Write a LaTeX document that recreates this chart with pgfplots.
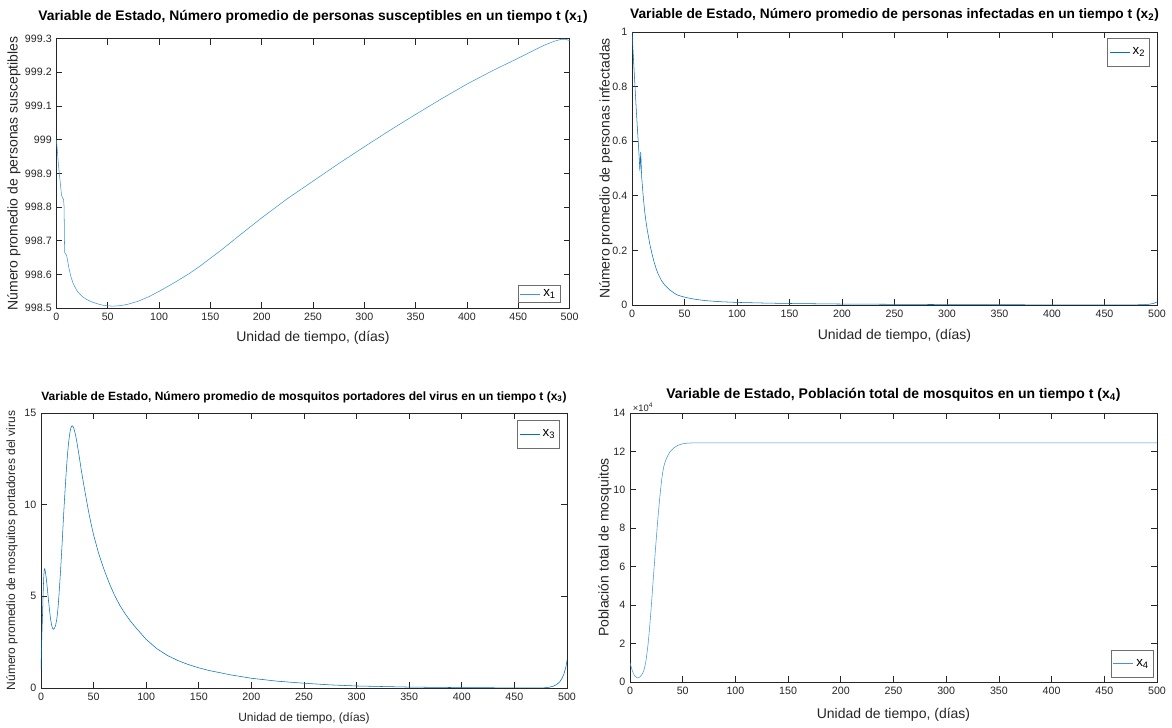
\documentclass[border=0pt]{standalone}
\usepackage{fontspec}
\setmainfont{Liberation Sans}
\usepackage{pgfplots}
\pgfplotsset{compat=1.18}

\definecolor{mblue}{RGB}{0,114,189}
\definecolor{lblue}{RGB}{60,150,215}
\definecolor{axgray}{RGB}{38,38,38}
\definecolor{leggray}{RGB}{110,110,110}

\newcommand{\sub}[1]{\textsubscript{#1}}

\pgfplotsset{
  statepanel/.style={
    scale only axis,
    clip mode=individual,
    xmin=0, xmax=500,
    xtick={0,50,...,500},
    tick align=inside,
    axis line style={axgray, line width=0.55pt},
    every tick/.style={axgray, line width=0.55pt},
    major tick length=4.5pt,
    tick label style={font=\fontsize{8}{10}\selectfont, text=axgray},
    /pgf/number format/assume math mode=true,
    title style={font=\bfseries\fontsize{10.4}{12}\selectfont, anchor=center, yshift=-6pt},
    label style={font=\fontsize{10.5}{12}\selectfont, text=axgray},
    legend style={draw=leggray, fill=white, line width=0.55pt,
      font=\fontsize{10}{12}\selectfont, inner xsep=1.5pt, inner ysep=1pt},
    legend cell align=left,
    legend image code/.code={\draw[#1] (0pt,0pt) -- (15pt,0pt);},
    no markers,
    cycle list={{mblue, line width=0.6pt}},
  }
}

\begin{document}
\begin{tikzpicture}
\path[use as bounding box] (0,0) rectangle (879pt,546pt);

% susceptible humans
\begin{axis}[statepanel,
  at={(42.3pt,314.85pt)}, anchor=south west,
  width=384.9pt, height=202.2pt,
  cycle list={{lblue, line width=0.55pt}},
  ymin=998.5, ymax=999.3,
  ytick={998.5,998.6,998.7,998.8,998.9,999,999.1,999.2,999.3},
  scaled y ticks=false,
  yticklabel style={/pgf/number format/fixed, /pgf/number format/precision=1},
  title={Variable de Estado, Número promedio de personas susceptibles en un tiempo t (x\sub{1})},
  title style={at={(axis description cs:0.5,1.080)}},
  xlabel={Unidad de tiempo, (días)},
  xlabel style={at={(axis description cs:0.5,-0.1105)}, anchor=center},
  ylabel={Número promedio de personas susceptibles},
  ylabel style={at={(axis description cs:-0.0826,0.5)}, anchor=center},
  legend style={at={(axis description cs:0.983,0.019)}, anchor=south east},
]
\addplot coordinates {
(0,999.00) (1,998.965) (2,998.925) (3,998.895) (4,998.865) (5,998.835)
(6,998.828) (7,998.822) (7.5,998.80) (8,998.665) (9,998.662) (10,998.655)
(11,998.64) (12,998.622) (13,998.608) (14,998.595) (16,998.576) (18,998.563)
(20,998.552) (23,998.541) (26,998.533) (30,998.525) (35,998.518) (40,998.513)
(45,998.509) (50,998.507) (55,998.506) (60,998.507) (65,998.509) (70,998.512)
(80,998.521) (90,998.534) (100,998.550) (110,998.567) (120,998.585) (130,998.604)
(140,998.625) (150,998.648) (160,998.671) (180,998.72) (200,998.768) (225,998.825)
(250,998.877) (275,998.929) (300,998.979) (325,999.028) (350,999.075) (375,999.121)
(400,999.165) (425,999.205) (450,999.242) (465,999.265) (475,999.280) (485,999.292)
(492,999.298) (496,999.298) (500,999.294)
};
\addlegendentry{x\sub{1}}
\end{axis}

% infected humans
\begin{axis}[statepanel,
  at={(474pt,317.25pt)}, anchor=south west,
  width=393.75pt, height=204.75pt,
  ymin=0, ymax=1,
  ytick={0,0.2,0.4,0.6,0.8,1},
  title={Variable de Estado, Número promedio de personas infectadas en un tiempo t (x\sub{2})},
  title style={at={(axis description cs:0.5,1.062)}, font=\bfseries\fontsize{10.3}{12}\selectfont},
  xlabel={Unidad de tiempo, (días)},
  xlabel style={at={(axis description cs:0.5,-0.1136)}, anchor=center},
  ylabel={Número promedio de personas infectadas},
  ylabel style={at={(axis description cs:-0.0495,0.5)}, anchor=center},
  legend style={at={(axis description cs:0.987,0.978)}, anchor=north east, inner ysep=5pt},
]
\addplot coordinates {
(0,1.0) (1,0.93) (2,0.86) (3,0.79) (4,0.72) (5,0.655) (6,0.595) (7,0.53)
(7.5,0.49) (8.3,0.56) (9.2,0.47) (10,0.43) (11,0.385) (12,0.345) (13,0.315)
(14,0.288) (15,0.265) (17,0.222) (19,0.188) (21,0.158) (23,0.133) (25,0.113)
(28,0.09) (31,0.074) (33,0.066) (36,0.055) (40,0.044) (43,0.037) (47,0.032)
(52,0.027) (60,0.021) (70,0.016) (84,0.012) (100,0.0095) (125,0.0072)
(150,0.0055) (200,0.0035) (250,0.0025) (300,0.0015) (400,0.0006) (470,0.0004)
(480,0.0006) (488,0.0015) (493,0.003) (497,0.006) (500,0.011)
};
\addlegendentry{x\sub{2}}
\end{axis}

% infectious mosquitoes
\begin{axis}[statepanel,
  at={(30.75pt,30pt)}, anchor=south west,
  width=394.5pt, height=206.25pt,
  ymin=0, ymax=15,
  ytick={0,5,10,15},
  title={Variable de Estado, Número promedio de mosquitos portadores del virus en un tiempo t (x\sub{3})},
  title style={at={(axis description cs:0.5,1.058)}, font=\bfseries\fontsize{9}{11}\selectfont},
  xlabel={Unidad de tiempo, (días)},
  xlabel style={at={(axis description cs:0.5,-0.109)}, anchor=center, font=\fontsize{9}{11}\selectfont},
  ylabel={Número promedio de mosquitos portadores del virus},
  ylabel style={at={(axis description cs:-0.0551,0.5)}, anchor=center, font=\fontsize{9}{11}\selectfont},
  legend style={at={(axis description cs:0.987,0.975)}, anchor=north east, inner ysep=5pt},
]
\addplot coordinates {
(0,1.0) (0.5,2.2) (1,3.2) (1.5,4.1) (2,5.1) (2.5,5.9) (3,6.4) (3.5,6.5)
(4,6.4) (5,6.0) (6,5.45) (7,4.85) (8,4.3) (9,3.8) (10,3.45) (11,3.25) (12,3.2)
(13,3.28) (14,3.45) (15,3.75) (16,4.25) (17,5.0) (18,5.85) (19,6.8) (20,7.8)
(21,8.9) (22,9.95) (23,10.9) (24,11.8) (25,12.6) (26,13.25) (27,13.75) (28,14.1)
(29,14.28) (30,14.3) (31,14.2) (32,14.0) (33,13.75) (34,13.45) (36,12.75)
(38,12.0) (40,11.3) (42,10.65) (44,10.0) (46,9.4) (48,8.85) (50,8.35) (55,7.3)
(60,6.45) (65,5.7) (70,5.05) (75,4.5) (80,4.05) (85,3.65) (90,3.3) (100,2.65)
(110,2.15) (120,1.78) (130,1.5) (140,1.28) (150,1.1) (160,0.95) (180,0.72)
(200,0.53) (225,0.37) (250,0.26) (275,0.17) (300,0.11) (350,0.05) (400,0.02)
(450,0.008) (470,0.005) (478,0.01) (483,0.04) (487,0.1) (490,0.18) (493,0.33)
(495,0.5) (497,0.75) (499,1.15) (500,1.5)
};
\addlegendentry{x\sub{3}}
\end{axis}

% total mosquito population (tick labels in units of 10^4)
\begin{axis}[statepanel,
  at={(472.5pt,34.5pt)}, anchor=south west,
  width=395.25pt, height=201.75pt,
  cycle list={{lblue, line width=0.55pt}},
  ymin=0, ymax=140000,
  ytick={0,20000,40000,60000,80000,100000,120000,140000},
  yticklabels={0,2,4,6,8,10,12,14},
  scaled y ticks=false,
  title={Variable de Estado, Población total de mosquitos en un tiempo t (x\sub{4})},
  title style={at={(axis description cs:0.5,1.067)}, font=\bfseries\fontsize{10.5}{12}\selectfont},
  xlabel={Unidad de tiempo, (días)},
  xlabel style={at={(axis description cs:0.5,-0.1227)}, anchor=center},
  ylabel={Población total de mosquitos},
  ylabel style={at={(axis description cs:-0.0474,0.5)}, anchor=center},
  legend style={at={(axis description cs:0.994,0.015)}, anchor=south east, inner ysep=5pt},
]
\addplot coordinates {
(0,10000) (1,8000) (2,6200) (3,4700) (4,3600) (5,2900) (6,2400) (7,2200)
(8,2200) (9,2500) (10,3000) (11,3700) (12,4500) (13,5800) (14,7800) (15,10500)
(16,14500) (17,19000) (18,24500) (19,31000) (20,38000) (21,45500) (22,53000)
(23,60500) (24,68000) (25,75000) (26,82000) (27,88500) (28,94500) (29,100000)
(30,105000) (31,109000) (32,112000) (33,114000) (34,115500) (36,118000)
(38,119800) (40,121000) (42,122000) (45,123000) (48,123700) (52,124200)
(58,124400) (65,124500) (100,124500) (200,124500) (300,124500) (400,124500)
(500,124500)
};
\addlegendentry{x\sub{4}}
\node[anchor=south west, inner sep=1pt, xshift=1pt, text=axgray, font=\fontsize{7}{8}\selectfont]
  at (axis description cs:0,1) {×10\textsuperscript{4}};
\end{axis}
\end{tikzpicture}
\end{document}
